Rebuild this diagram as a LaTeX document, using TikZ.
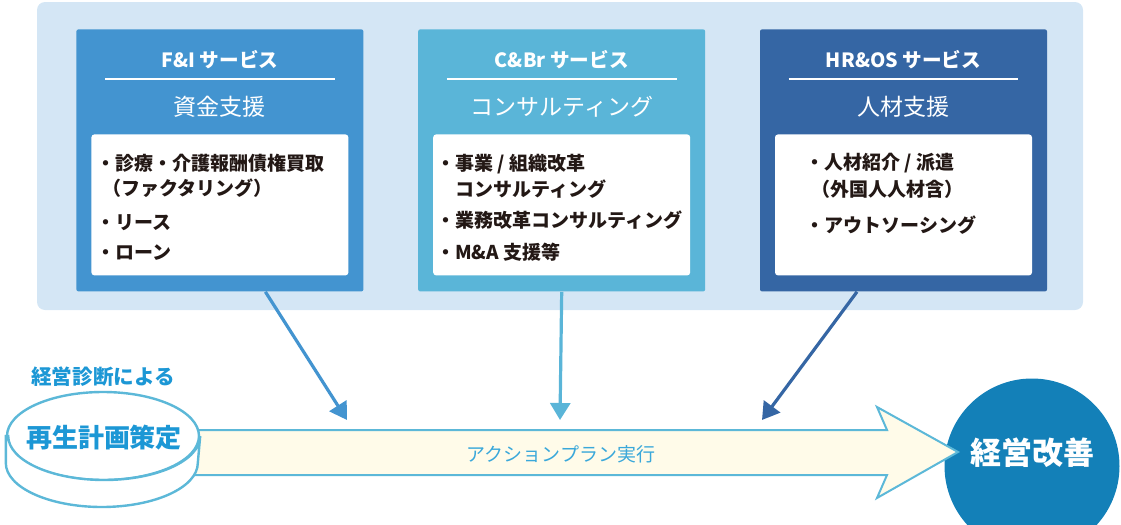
\documentclass[tikz,border=0pt]{standalone}
\usepackage{fontspec}
\setmainfont{Noto Sans CJK JP}
\usetikzlibrary{arrows.meta,positioning,shapes.geometric}
\definecolor{panelblue}{HTML}{D4E6F5}
\definecolor{fiblue}{HTML}{4394D0}
\definecolor{cbrblue}{HTML}{5AB5D8}
\definecolor{hrblue}{HTML}{3566A4}
\definecolor{inkdark}{HTML}{231815}
\definecolor{diskline}{HTML}{5CB8D8}
\definecolor{planblue}{HTML}{1C97D5}
\definecolor{goalblue}{HTML}{1380B8}
\definecolor{actfill}{HTML}{FFFBE9}
\definecolor{acttext}{HTML}{3AA8DA}
\tikzset{service/.style={rectangle,minimum width=143.5pt,minimum height=131pt,inner sep=0pt,rounded corners=1pt}}
\tikzset{svtitle/.style={text=white,inner sep=0pt,font=\fontsize{9.8}{11}\selectfont\bfseries}}
\tikzset{svsub/.style={text=white,inner sep=0pt,font=\fontsize{11.5}{13}\selectfont}}
\tikzset{menu/.style={rectangle,fill=white,minimum width=128.5pt,minimum height=70.5pt,inner sep=0pt,rounded corners=1.5pt}}
\tikzset{entry/.style={anchor=base west,inner sep=0pt,text=inkdark,font=\fontsize{9.5}{11}\selectfont\bfseries}}
\tikzset{feed/.style={line width=1.6pt,-{Triangle[length=8.5pt,width=10pt]}}}
\tikzset{disk/.style={draw=diskline,line width=1.2pt,fill=white}}

\begin{document}
\begin{tikzpicture}[x=0.5pt,y=-0.5pt]
  \useasboundingbox (0,0) rectangle (1121,525);
  \fill[panelblue,rounded corners=4pt] (37,2) rectangle (1083,310);
  % three service boxes
  \node[service,fill=fiblue,anchor=north west] (fi) at (76,29) {};
  \node[service,fill=cbrblue,right=27pt of fi] (cbr) {};
  \node[service,fill=hrblue,right=27pt of cbr] (hros) {};
  \node[svtitle] (fititle) at ([yshift=-15.5pt]fi.north) {F\&I サービス};
  \node[svtitle] (cbrtitle) at ([yshift=-15.5pt]cbr.north) {C\&Br サービス};
  \node[svtitle] (hrostitle) at ([yshift=-15.5pt]hros.north) {HR\&OS サービス};
  \draw[white,line width=1pt] ([xshift=14.5pt,yshift=-25pt]fi.north west) -- ([xshift=-14.5pt,yshift=-25pt]fi.north east);
  \draw[white,line width=1pt] ([xshift=14.5pt,yshift=-25pt]cbr.north west) -- ([xshift=-14.5pt,yshift=-25pt]cbr.north east);
  \draw[white,line width=1pt] ([xshift=14.5pt,yshift=-25pt]hros.north west) -- ([xshift=-14.5pt,yshift=-25pt]hros.north east);
  \node[svsub] (fisub) at ([yshift=-39pt]fi.north) {資金支援};
  \node[svsub] (cbrsub) at ([yshift=-39pt]cbr.north) {コンサルティング};
  \node[svsub] (hrossub) at ([yshift=-39pt]hros.north) {人材支援};
  \node[menu,anchor=north] (fimenu) at ([yshift=-52.5pt]fi.north) {};
  \node[menu,anchor=north] (cbrmenu) at ([yshift=-52.5pt]cbr.north) {};
  \node[menu,anchor=north] (hrosmenu) at ([yshift=-52.5pt]hros.north) {};
  % menu entries
  \node[entry] (fia) at ([xshift=2.5pt,yshift=-18pt]fimenu.north west) {・診療・介護報酬債権買取};
  \node[entry] (fib) at ([xshift=5.5pt,yshift=-30.5pt]fimenu.north west) {（ファクタリング）};
  \node[entry] (fic) at ([xshift=2.5pt,yshift=-47.5pt]fimenu.north west) {・リース};
  \node[entry] (fid) at ([xshift=2.5pt,yshift=-62.5pt]fimenu.north west) {・ローン};
  \node[entry] (cbra) at ([xshift=1.5pt,yshift=-18pt]cbrmenu.north west) {・事業 / 組織改革};
  \node[entry] (cbrb) at ([xshift=11pt,yshift=-31pt]cbrmenu.north west) {コンサルティング};
  \node[entry] (cbrc) at ([xshift=1.5pt,yshift=-46.5pt]cbrmenu.north west) {・業務改革コンサルティング};
  \node[entry] (cbrd) at ([xshift=1.5pt,yshift=-62.5pt]cbrmenu.north west) {・M\&A 支援等};
  \node[entry] (hrosa) at ([xshift=15.25pt,yshift=-17.5pt]hrosmenu.north west) {・人材紹介 / 派遣};
  \node[entry] (hrosb) at ([xshift=18.25pt,yshift=-31pt]hrosmenu.north west) {（外国人人材含）};
  \node[entry] (hrosc) at ([xshift=15.25pt,yshift=-49pt]hrosmenu.north west) {・アウトソーシング};
  % plan, action and goal
  \node[circle,fill=goalblue,minimum size=87.5pt,inner sep=0pt] (goal) at (1032,466) {};
  \node[text=white,font=\fontsize{15.5}{17}\selectfont\bfseries,inner sep=0pt] (goaltext) at (1032,453) {経営改善};
  \draw[diskline,fill=actfill,line width=1pt] (103,430) -- (887,430) -- (877,407) -- (958,452) -- (877,498) -- (887,475) -- (103,475) -- cycle;
  \node[text=acttext,font=\fontsize{9.5}{11}\selectfont,inner sep=0pt] (act) at (561,454) {アクションプラン実行};
  \node[ellipse,disk,minimum width=96pt,minimum height=44pt,inner sep=0pt] (plan) at (103,436) {};
  \draw[disk] (plan.west) -- ++(0,27) arc[start angle=180,end angle=360,x radius=48pt,y radius=22pt] -- (plan.east) arc[start angle=0,end angle=-180,x radius=48pt,y radius=22pt] -- cycle;
  \node[text=planblue,font=\fontsize{13}{15}\selectfont\bfseries,inner sep=0pt] (plantext) at (104,438) {再生計画策定};
  \node[text=planblue,font=\fontsize{10.3}{12}\selectfont\bfseries,inner sep=0pt] (note) at (103,377) {経営診断による};
  % arrows into the action
  \coordinate (fidrop) at (347,420);
  \coordinate (cbrdrop) at (560,420);
  \coordinate (hrosdrop) at (762,420);
  \draw[feed,fiblue] ([xshift=22.75pt]fi.south) -- (fidrop);
  \draw[feed,cbrblue] (cbr.south) -- (cbrdrop);
  \draw[feed,hrblue] ([xshift=-23.25pt]hros.south) -- (hrosdrop);
\end{tikzpicture}
\end{document}
